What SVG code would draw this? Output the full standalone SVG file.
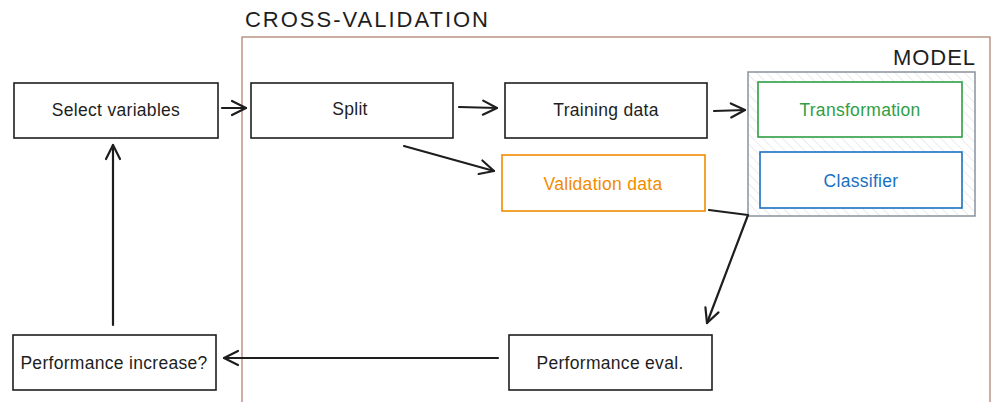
<svg xmlns="http://www.w3.org/2000/svg" width="994" height="402" viewBox="0 0 994 402">
<style>
text{font-family:"Liberation Sans","DejaVu Sans",sans-serif;font-size:17.5px;letter-spacing:0.3px;text-anchor:middle;dominant-baseline:central;fill:#1e1e1e}
.title{font-size:22px;text-anchor:start;dominant-baseline:alphabetic;letter-spacing:1px}
.box{fill:#fff;stroke:#1e1e1e;stroke-width:1.6}
.conn{fill:none;stroke:#1e1e1e;stroke-width:2.2;stroke-linecap:round;stroke-linejoin:round}
</style>
<defs>
<pattern id="hatch" patternUnits="userSpaceOnUse" width="7" height="7" patternTransform="rotate(-45)">
<line x1="0" y1="0" x2="0" y2="7" stroke="#d5d8dc" stroke-width="1"/>
</pattern>
<marker id="arr" viewBox="0 0 20 20" refX="18" refY="10" markerWidth="20" markerHeight="20" markerUnits="userSpaceOnUse" orient="auto">
<path d="M4 3 L18 10 L4 17" fill="none" stroke="#1e1e1e" stroke-width="2.2" stroke-linecap="round" stroke-linejoin="round"/>
</marker>
</defs>
<g id="cross-validation">
<rect x="242" y="37" width="748" height="380" fill="none" stroke="#a87b68" stroke-width="1.2"/>
<text class="title" x="245" y="27" textLength="244" lengthAdjust="spacing">CROSS-VALIDATION</text>
</g>
<g id="model">
<rect x="748" y="72" width="227" height="144" fill="url(#hatch)" stroke="#8a929b" stroke-width="1.5"/>
<text class="title" x="893" y="65" textLength="83" lengthAdjust="spacing">MODEL</text>
</g>
<g id="select-variables">
<rect class="box" x="14" y="83" width="204" height="55"/>
<text x="116" y="110">Select variables</text>
</g>
<g id="split">
<rect class="box" x="251" y="83" width="202" height="55"/>
<text x="350" y="109">Split</text>
</g>
<g id="training-data">
<rect class="box" x="505" y="83" width="202" height="55"/>
<text x="606" y="110">Training data</text>
</g>
<g id="validation-data">
<rect x="502" y="155" width="203" height="56" fill="#fff" stroke="#f08c00" stroke-width="1.6"/>
<text x="603" y="184" style="fill:#f08c00">Validation data</text>
</g>
<g id="transformation">
<rect x="758" y="82" width="204" height="55" fill="#fff" stroke="#2f9e44" stroke-width="1.6"/>
<text x="860" y="110" style="fill:#2f9e44">Transformation</text>
</g>
<g id="classifier">
<rect x="760" y="152" width="202" height="56" fill="#fff" stroke="#1971c2" stroke-width="1.6"/>
<text x="861" y="181" style="fill:#1971c2">Classifier</text>
</g>
<g id="performance-eval">
<rect class="box" x="509" y="335" width="203" height="55"/>
<text x="610" y="363">Performance eval.</text>
</g>
<g id="performance-increase">
<rect class="box" x="13" y="335" width="203" height="55"/>
<text x="114" y="363">Performance increase?</text>
</g>
<g id="connectors">
<path class="conn" d="M222 108 L246 108" marker-end="url(#arr)"/>
<path class="conn" d="M459 107 L497 108" marker-end="url(#arr)"/>
<path class="conn" d="M714 111 L745 110" marker-end="url(#arr)"/>
<path class="conn" d="M404 146 L494 171" marker-end="url(#arr)"/>
<path class="conn" d="M709 210 L748 215 L707 323" marker-end="url(#arr)"/>
<path class="conn" d="M498 358 L224 358" marker-end="url(#arr)"/>
<path class="conn" d="M113 325 L113 145" marker-end="url(#arr)"/>
</g>
</svg>
